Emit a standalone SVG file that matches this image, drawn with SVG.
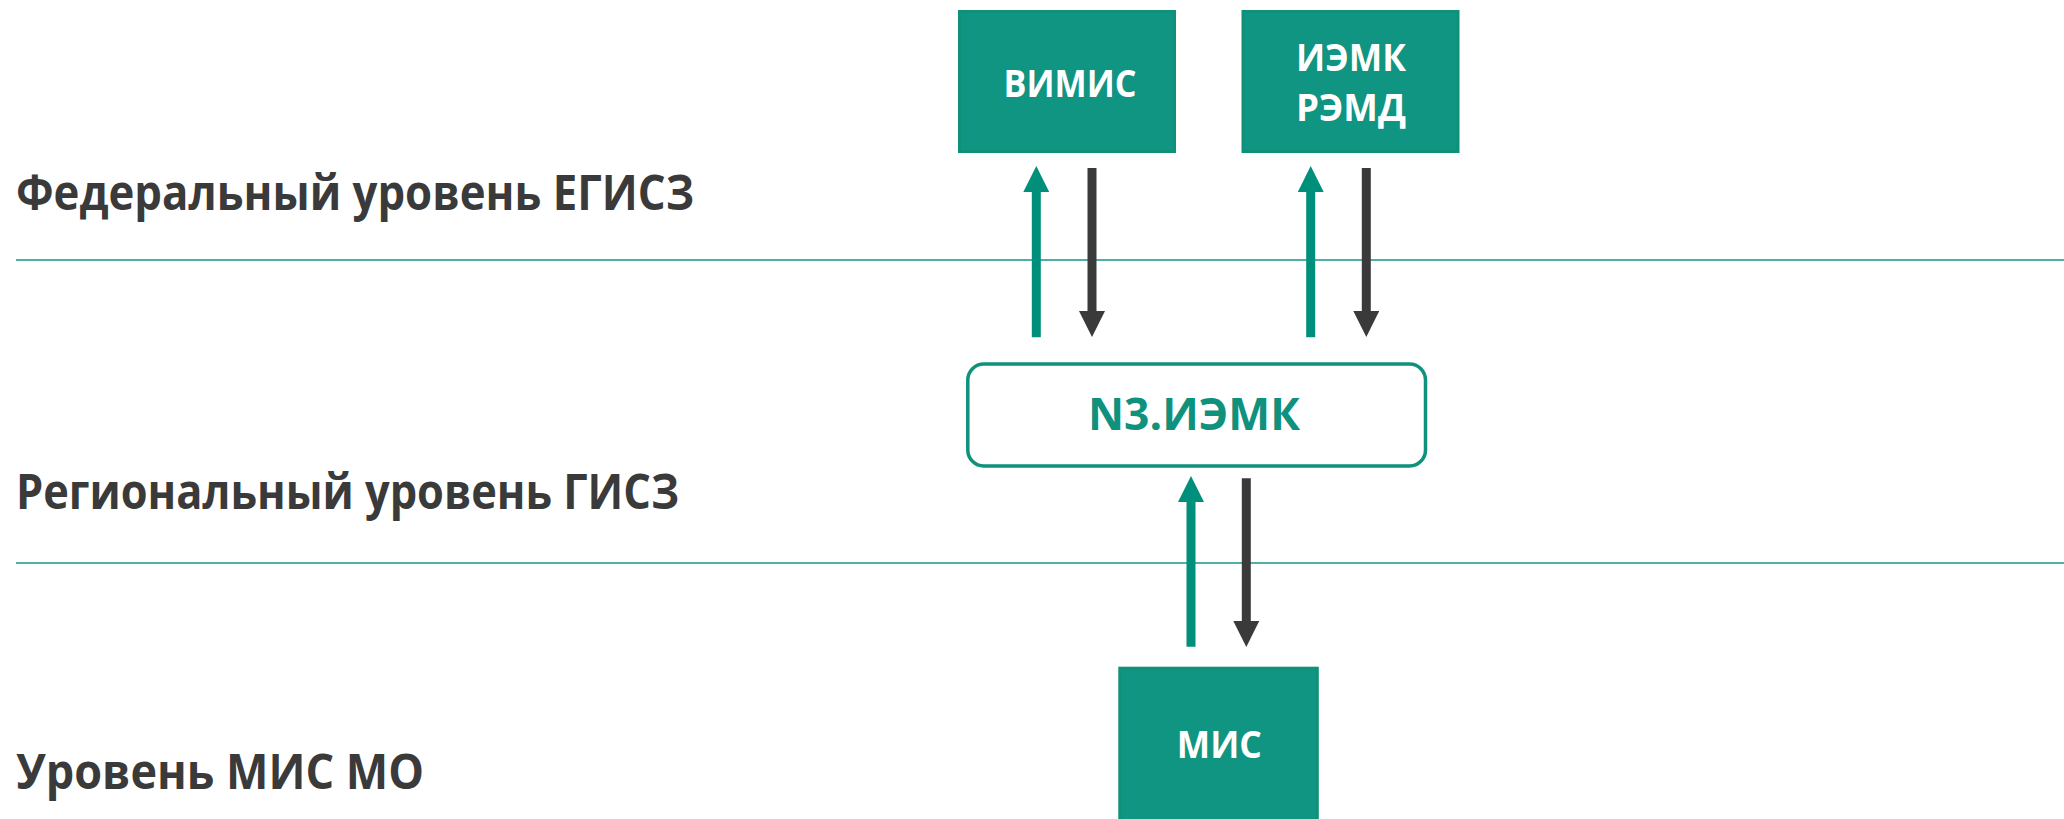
<svg xmlns="http://www.w3.org/2000/svg" width="2064" height="819" viewBox="0 0 2064 819">
<style>
.lvl{font-family:"Open Sans","Noto Sans","Liberation Sans",sans-serif;font-weight:700;font-size:49px;fill:#3a3a3a}
.box{fill:#109582;stroke:#0e9079;stroke-width:3}
.btxt{font-family:"Open Sans","Noto Sans","Liberation Sans",sans-serif;font-weight:700;font-size:38px;fill:#ffffff;text-anchor:middle}
.n3{fill:#ffffff;stroke:#0f917d;stroke-width:3.5}
.n3txt{font-family:"Open Sans","Noto Sans","Liberation Sans",sans-serif;font-weight:700;font-size:44px;fill:#0f917d;text-anchor:middle}
.sep{stroke:#13968a;stroke-width:1.6;fill:none}
.up{stroke:#008f7a;stroke-width:9;fill:none;marker-end:url(#hg)}
.dn{stroke:#3a3a3a;stroke-width:9;fill:none;marker-end:url(#hd)}
</style>
<defs>
<marker id="hg" markerUnits="userSpaceOnUse" markerWidth="26" markerHeight="26" refX="0" refY="13" orient="auto" viewBox="0 0 26 26">
<path d="M0,0 L26,13 L0,26 z" fill="#008f7a"/>
</marker>
<marker id="hd" markerUnits="userSpaceOnUse" markerWidth="26" markerHeight="26" refX="0" refY="13" orient="auto" viewBox="0 0 26 26">
<path d="M0,0 L26,13 L0,26 z" fill="#3a3a3a"/>
</marker>
</defs>
<rect width="2064" height="819" fill="#ffffff"/>
<g id="levels">
<line class="sep" x1="16" y1="260" x2="2064" y2="260"/>
<line class="sep" x1="16" y1="563" x2="2064" y2="563"/>
<text class="lvl" x="16" y="209.5" textLength="678" lengthAdjust="spacingAndGlyphs">Федеральный уровень ЕГИСЗ</text>
<text class="lvl" x="16" y="508.5" textLength="663" lengthAdjust="spacingAndGlyphs">Региональный уровень ГИСЗ</text>
<text class="lvl" x="16" y="789" textLength="408" lengthAdjust="spacingAndGlyphs">Уровень МИС МО</text>
</g>
<g id="vimis">
<rect class="box" x="959.5" y="11.5" width="215" height="140"/>
<text class="btxt" x="1070" y="96.7" textLength="133" lengthAdjust="spacingAndGlyphs">ВИМИС</text>
</g>
<g id="iemk-remd">
<rect class="box" x="1243" y="11.5" width="215" height="140"/>
<text class="btxt" x="1351" y="70.7" textLength="110" lengthAdjust="spacingAndGlyphs">ИЭМК</text>
<text class="btxt" x="1351" y="120.7" textLength="110" lengthAdjust="spacingAndGlyphs">РЭМД</text>
</g>
<g id="n3-iemk">
<rect class="n3" x="967.8" y="364" width="457.7" height="102" rx="16" ry="16"/>
<text class="n3txt" x="1194" y="430" textLength="212" lengthAdjust="spacingAndGlyphs">N3.ИЭМК</text>
</g>
<g id="mis">
<rect class="box" x="1119.8" y="668.2" width="197.5" height="170"/>
<text class="btxt" x="1219.3" y="758.3" textLength="85" lengthAdjust="spacingAndGlyphs">МИС</text>
</g>
<g id="connectors">
<line class="up" x1="1036.3" y1="337.3" x2="1036.3" y2="192"/>
<line class="dn" x1="1092" y1="168" x2="1092" y2="311"/>
<line class="up" x1="1310.7" y1="337.3" x2="1310.7" y2="192"/>
<line class="dn" x1="1366.3" y1="168" x2="1366.3" y2="311"/>
<line class="up" x1="1191" y1="646.7" x2="1191" y2="502"/>
<line class="dn" x1="1246.3" y1="478.3" x2="1246.3" y2="621"/>
</g>
</svg>
